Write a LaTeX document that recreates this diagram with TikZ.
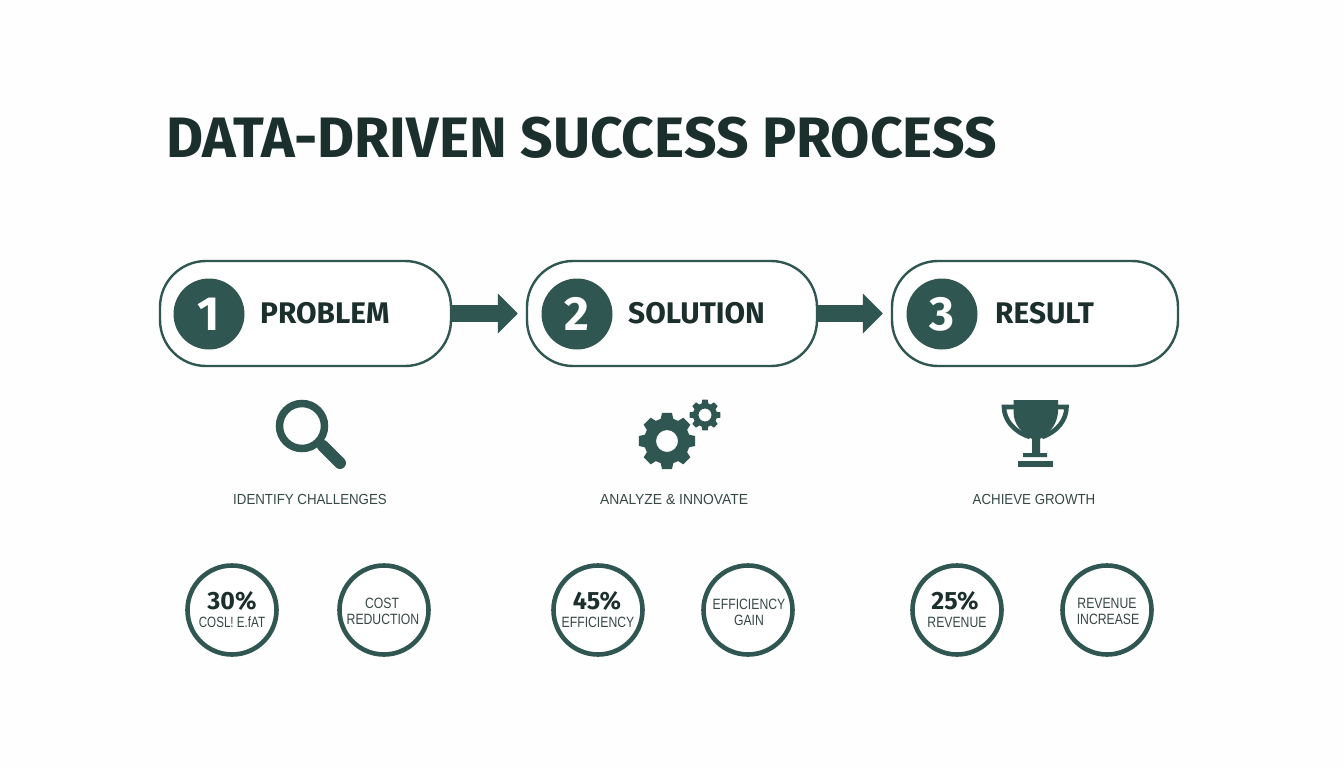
\documentclass[tikz,border=0pt]{standalone}
\usepackage{fontspec}
\setmainfont{Liberation Sans}
\newfontfamily\fa{Fira Sans}
\newfontfamily\fb{Fira Sans}
\newfontfamily\fc[FakeStretch=0.91]{Liberation Sans}
\newfontfamily\fe[FakeStretch=0.95]{Liberation Sans}
\newfontfamily\fd[FakeStretch=0.82]{Liberation Sans}
\newfontfamily\fg[FakeStretch=0.78]{Liberation Sans}
\usetikzlibrary{arrows.meta}
\definecolor{teal}{HTML}{2F5651}
\definecolor{ink}{HTML}{1B2F2C}
\definecolor{paper}{HTML}{FDFEFD}
\newcommand{\fs}[1]{\fontsize{#1}{#1}\selectfont}
\tikzset{
  x=1pt,y=-1pt,
  pill/.style={draw=teal,line width=2.4pt,fill=white,rounded corners=46pt,minimum height=105pt,inner sep=0pt},
  badge/.style={circle,fill=teal,minimum size=71pt,inner sep=0pt,text=white,font=\fb\fs{48}\bfseries},
  steplabel/.style={anchor=west,inner sep=0pt,text=ink,font=\fb\fs{29.8}\bfseries},
  caption/.style={inner sep=0pt,text=ink!88!white,font=\fc\fs{14.6}},
  metric/.style={circle,draw=teal,line width=4.6pt,fill=white,minimum size=89pt,inner sep=0pt},
  bignum/.style={inner sep=0pt,text=ink,font=\fb\fs{25}\bfseries},
  smalltxt/.style={inner sep=0pt,text=ink!88!white,font=\fd\fs{14.9}},
  flow/.style={draw=teal,line width=17pt,shorten >=8pt,-{Triangle[length=20pt,width=39pt]}}
}
\newcommand{\gear}[5]{% cx cy outer root hole
  \fill[teal,even odd rule]
    ({#1+#4*cos(-16)},{#2+#4*sin(-16)})
    \foreach \a in {0,45,...,315}{
      -- ({#1+#3*cos(\a-10)},{#2+#3*sin(\a-10)})
      -- ({#1+#3*cos(\a+10)},{#2+#3*sin(\a+10)})
      -- ({#1+#4*cos(\a+16)},{#2+#4*sin(\a+16)})
      -- ({#1+#4*cos(\a+29)},{#2+#4*sin(\a+29)})
    } -- cycle
    (#1,#2) circle[radius=#5];
}
\begin{document}
\begin{tikzpicture}
\useasboundingbox (0,0) rectangle (1344,768);
\fill[paper] (0,0) rectangle (1344,768);

\node[inner sep=0pt,anchor=west,text=ink,font=\fa\fs{57}\bfseries] (title) at (166,138) {DATA-DRIVEN SUCCESS PROCESS};

\node[pill,minimum width=291pt] (p1) at (305.5,313.5) {};
\node[pill,minimum width=290pt] (p2) at (672,313.5) {};
\node[pill,minimum width=286pt] (p3) at (1035,313.5) {};
\draw[flow] (p1.east) -- (p2.west);
\draw[flow] (p2.east) -- (p3.west);

\node[badge] (b1) at (209,314) {1};
\node[badge] (b2) at (577,314) {2};
\node[badge] (b3) at (942,314) {3};
\node[steplabel] (t1) at (260,313) {PROBLEM};
\node[steplabel] (t2) at (628,313) {SOLUTION};
\node[steplabel] (t3) at (995,313) {RESULT};

% magnifier
\draw[teal,line width=7.5pt] (302,426) circle[radius=22.5];
\draw[teal,line width=12pt,line cap=round] (323,446) -- (340,463);
% gears
\gear{667}{441}{28.5}{23}{11}
\gear{705}{415}{15.5}{12}{6.5}
% trophy
\fill[teal] (1013.5,400) -- (1058,400) -- (1058,412) .. controls (1057,425) and (1050,432) .. (1040,439)
  -- (1040,453) -- (1047,453) -- (1047,457) -- (1023,457) -- (1023,453) -- (1032,453) -- (1032,439)
  .. controls (1021,432) and (1014,425) .. (1013.5,412) -- cycle;
\fill[teal] (1018,461) rectangle (1053,467);
\draw[teal,line width=4.6pt] (1014,407) -- (1004,407) .. controls (1004,420) and (1014,432) .. (1030,437);
\draw[teal,line width=4.6pt] (1058,407) -- (1066.5,407) .. controls (1066.5,420) and (1057,432) .. (1042,437);

\node[caption] (c1) at (310,499) {IDENTIFY CHALLENGES};
\node[caption,font=\fe\fs{14.6}] (c2) at (674,499) {ANALYZE \& INNOVATE};
\node[caption] (c3) at (1034,499) {ACHIEVE GROWTH};

\node[metric] (m1) at (232,610) {};
\node[metric] (m2) at (384,610) {};
\node[metric] (m3) at (598,610) {};
\node[metric] (m4) at (748,610) {};
\node[metric] (m5) at (957,610) {};
\node[metric] (m6) at (1107,610) {};

\node[bignum] (n1) at (232,601) {30\%};
\node[smalltxt,font=\fg\fs{14.9}] (s1) at (232,622) {COSL! E.fAT};
\node[smalltxt] (s2a) at (382,603) {COST};
\node[smalltxt] (s2b) at (383,619) {REDUCTION};
\node[bignum] (n3) at (597,601) {45\%};
\node[smalltxt] (s3) at (598,622) {EFFICIENCY};
\node[smalltxt] (s4a) at (749,604) {EFFICIENCY};
\node[smalltxt] (s4b) at (749,620) {GAIN};
\node[bignum] (n5) at (955,601) {25\%};
\node[smalltxt] (s5) at (957,622) {REVENUE};
\node[smalltxt] (s6a) at (1107,603) {REVENUE};
\node[smalltxt] (s6b) at (1108,619) {INCREASE};
\end{tikzpicture}
\end{document}
